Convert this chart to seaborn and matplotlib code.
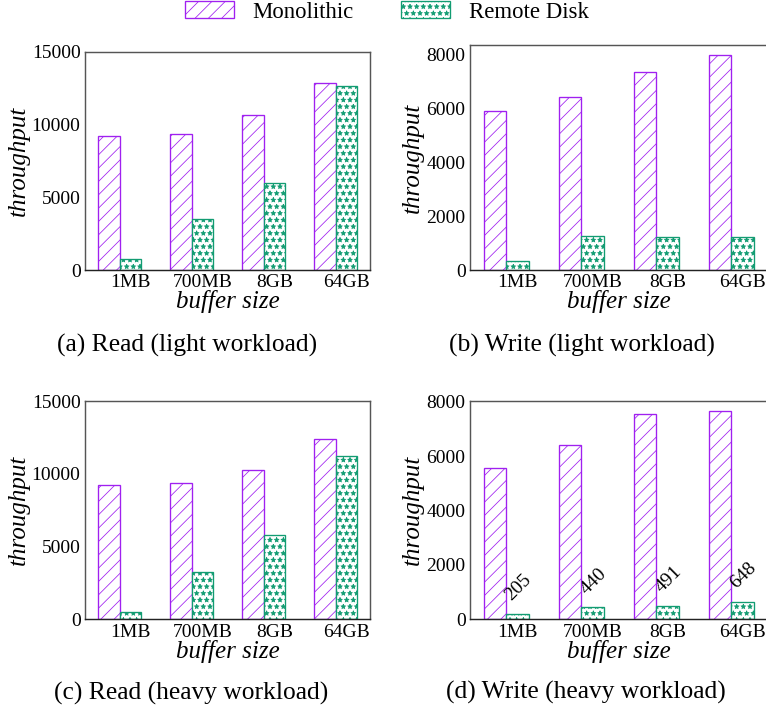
import numpy as np
import pandas as pd
import matplotlib
matplotlib.use("Agg")
import matplotlib.pyplot as plt
import matplotlib.patches as mpatches
import seaborn as sns

# ---- data -------------------------------------------------------------
sizes = ["1MB", "700MB", "8GB", "64GB"]
systems = ["Monolithic", "Remote Disk"]

read_light_mono = [9220, 9360, 10640, 12840]
read_light_remote = [740, 3530, 5960, 12620]

write_light_mono = [5900, 6450, 7380, 7990]
write_light_remote = [335, 1265, 1215, 1215]

read_heavy_mono = [9200, 9380, 10230, 12400]
read_heavy_remote = [520, 3240, 5820, 11250]

write_heavy_mono = [5570, 6410, 7540, 7670]
write_heavy_remote = [205, 440, 491, 648]

captions = [
    "(a) Read (light workload)",
    "(b) Write (light workload)",
    "(c) Read (heavy workload)",
    "(d) Write (heavy workload)",
]
read_ticks = [0, 5000, 10000, 15000]
write_ticks = [0, 2000, 4000, 6000, 8000]

# ---- style ------------------------------------------------------------
sns.set_style("white")
plt.rcParams["font.family"] = ["Liberation Serif", "DejaVu Serif"]
plt.rcParams["hatch.linewidth"] = 0.7
plt.rcParams["text.color"] = "black"
plt.rcParams["axes.labelcolor"] = "black"
plt.rcParams["xtick.color"] = "black"
plt.rcParams["ytick.color"] = "black"

DPI = 80
colors = {"Monolithic": "#a020f0", "Remote Disk": "#129c72"}
hatches = {"Monolithic": "//", "Remote Disk": "**"}

fig = plt.figure(figsize=(766 / DPI, 710 / DPI), dpi=DPI, facecolor="white")

# panel rectangles [left, bottom, width, height] in figure fractions
rects = [
    [0.1110, 0.6197, 0.3721, 0.3075],
    [0.6136, 0.6197, 0.3880, 0.3173],
    [0.1110, 0.1277, 0.3721, 0.3075],
    [0.6136, 0.1277, 0.3880, 0.3079],
]
panels = [
    (read_light_mono, read_light_remote, (0, 15000), read_ticks),
    (write_light_mono, write_light_remote, (0, 8380), write_ticks),
    (read_heavy_mono, read_heavy_remote, (0, 15000), read_ticks),
    (write_heavy_mono, write_heavy_remote, (0, 8040), write_ticks),
]
caption_pos = [(0.2448, 0.5141), (0.760, 0.5141), (0.2493, 0.0239), (0.765, 0.0254)]

for idx, (rect, (mono, remote, ylim, yticks)) in enumerate(zip(rects, panels)):
    ax = fig.add_axes(rect)
    df = pd.DataFrame({
        "size": sizes * 2,
        "throughput": list(mono) + list(remote),
        "system": [systems[0]] * len(sizes) + [systems[1]] * len(sizes),
    })
    sns.barplot(
        data=df, x="size", y="throughput", hue="system",
        order=sizes, hue_order=systems, palette=colors,
        width=0.6, gap=0, errorbar=None, legend=False, ax=ax,
    )
    for cont, sys_name in zip(ax.containers, systems):
        for p in cont:
            p.set_facecolor("white")
            p.set_edgecolor(colors[sys_name])
            p.set_hatch(hatches[sys_name])
            p.set_linewidth(1.2)

    ax.set_xlim(-0.48, 3.48)
    ax.set_ylim(*ylim)
    ax.set_yticks(yticks)
    ax.set_xticks(np.arange(len(sizes)) + 0.15, sizes)
    ax.tick_params(axis="x", length=0, pad=4, labelsize=17.5)
    ax.tick_params(axis="y", length=3, width=1, direction="out", pad=1,
                   labelsize=17.5, color="#444")
    ax.set_xlabel("buffer size", fontstyle="italic", fontsize=22.5, labelpad=-1)
    ax.set_ylabel("throughput", fontstyle="italic", fontsize=22.5, labelpad=2)
    for name, s in ax.spines.items():
        s.set_visible(True)
        s.set_color("#222" if name == "bottom" else "#555")
        s.set_linewidth(1.3)

    if idx == 3:
        for p, v in zip(ax.containers[1], remote):
            ax.annotate(f"{v}", xy=(p.get_x() + p.get_width() / 2, v),
                        xytext=(-3, 9), textcoords="offset points",
                        rotation=45, rotation_mode="anchor",
                        ha="left", va="bottom", fontsize=17.5)

    cx, cy = caption_pos[idx]
    fig.text(cx, cy, captions[idx], ha="center", va="center", fontsize=23)

handles = [
    mpatches.Patch(facecolor="white", edgecolor=colors[s], hatch=hatches[s],
                   linewidth=1.2, label=s)
    for s in systems
]
fig.legend(handles=handles, loc="center", bbox_to_anchor=(0.505, 0.983),
           ncol=2, frameon=False, fontsize=20.5, handlelength=2.15,
           handleheight=0.75, handletextpad=0.8, columnspacing=2.1,
           borderaxespad=0, borderpad=0)

fig.savefig("out.png", dpi=DPI, facecolor="white")
